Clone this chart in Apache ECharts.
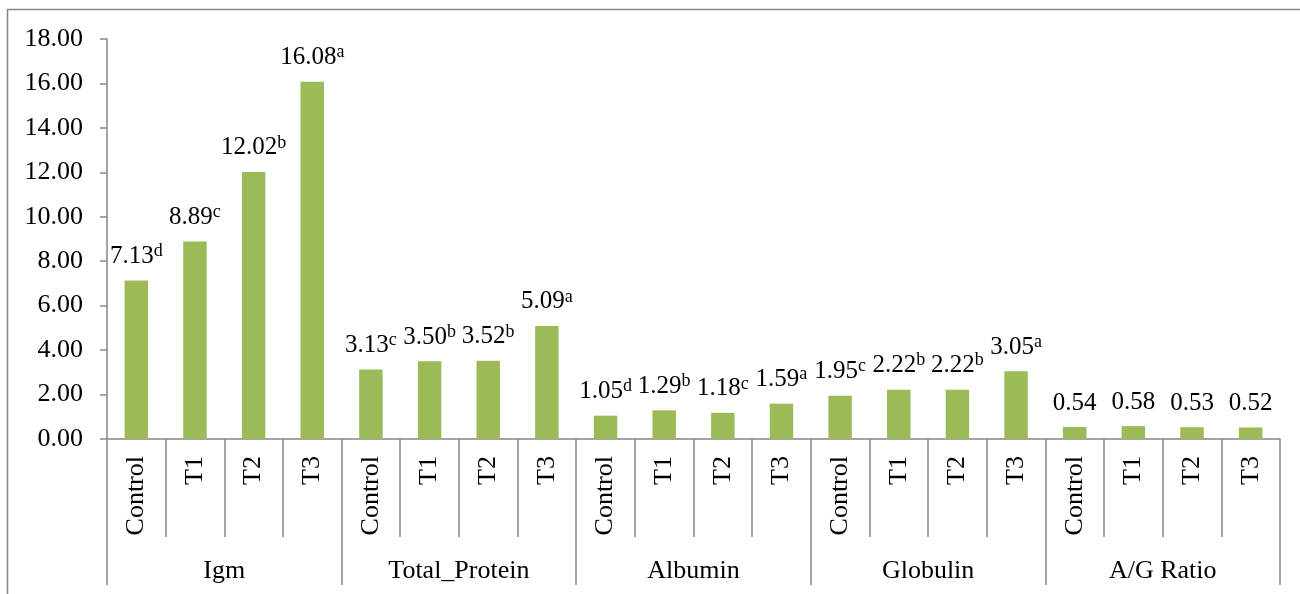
<!DOCTYPE html>
<html>
<head>
<meta charset="utf-8">
<script src="https://cdn.jsdelivr.net/npm/echarts@6/dist/echarts.min.js"></script>
<style>
html,body{margin:0;padding:0;background:#fff;}
#c{width:1300px;height:594px;}
</style>
</head>
<body>
<div id="c"></div>
<script>
const groups = ['Igm', 'Total_Protein', 'Albumin', 'Globulin', 'A/G Ratio'];
const treatments = ['Control', 'T1', 'T2', 'T3'];
const values = [7.13, 8.89, 12.02, 16.08, 3.13, 3.50, 3.52, 5.09, 1.05, 1.29, 1.18, 1.59, 1.95, 2.22, 2.22, 3.05, 0.54, 0.58, 0.53, 0.52];
const letters = ['d', 'c', 'b', 'a', 'c', 'b', 'b', 'a', 'd', 'b', 'c', 'a', 'c', 'b', 'b', 'a', '', '', '', ''];
const yTicks = [0, 2, 4, 6, 8, 10, 12, 14, 16, 18];

const categories = [];
groups.forEach(() => treatments.forEach(t => categories.push(t)));

const FONT = '"Liberation Serif", "Times New Roman", serif';
const AX = '#868686';

const chart = echarts.init(document.getElementById('c'));
chart.setOption({
  animation: false,
  backgroundColor: '#fff',
  textStyle: { fontFamily: FONT },
  graphic: [{
    type: 'rect', shape: { x: 7.5, y: 9.5, width: 1310, height: 620 },
    style: { fill: 'none', stroke: AX, lineWidth: 1.5 }, silent: true
  }],
  grid: { left: 107, right: 20, top: 39, bottom: 155, containLabel: false },
  xAxis: [{
    type: 'category', data: categories, position: 'bottom',
    axisLine: { lineStyle: { color: AX, width: 1.5 } },
    axisTick: { show: true, length: 98, interval: 0, lineStyle: { color: AX, width: 1.5 } },
    axisLabel: { interval: 0, rotate: 90, margin: 17, color: '#000', fontSize: 26, fontFamily: FONT }
  }, {
    type: 'category', data: groups, position: 'bottom',
    axisLine: { show: false },
    axisTick: { show: true, length: 146, interval: 0, lineStyle: { color: AX, width: 1.5 } },
    axisLabel: { interval: 0, margin: 119, color: '#000', fontSize: 26, fontFamily: FONT }
  }],
  yAxis: {
    type: 'value', min: yTicks[0], max: yTicks[yTicks.length - 1], interval: 2,
    axisLine: { show: true, lineStyle: { color: AX, width: 1.5 } },
    axisTick: { show: true, inside: false, length: 7, lineStyle: { color: AX, width: 1.5 } },
    splitLine: { show: false },
    axisLabel: { margin: 24, color: '#000', fontSize: 26, fontFamily: FONT, formatter: v => v.toFixed(2) }
  },
  series: [{
    type: 'bar', xAxisIndex: 0, barWidth: '40%',
    itemStyle: { color: '#9BBB59' },
    data: values,
    label: {
      show: true, position: 'top', distance: 10,
      formatter: p => '{v|' + values[p.dataIndex].toFixed(2) + '}' + (letters[p.dataIndex] ? '{s|' + letters[p.dataIndex] + '}' : ''),
      rich: {
        v: { fontSize: 25, lineHeight: 28, color: '#000', fontFamily: FONT },
        s: { fontSize: 18, lineHeight: 20, verticalAlign: 'top', color: '#000', fontFamily: FONT }
      }
    }
  }]
});
</script>
</body>
</html>
